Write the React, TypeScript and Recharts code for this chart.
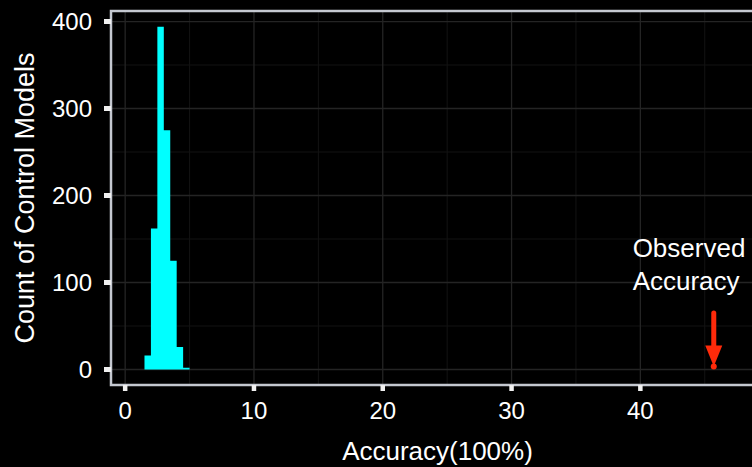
import React from "react";
import {
  ComposedChart,
  Area,
  XAxis,
  YAxis,
  CartesianGrid,
  ReferenceArea,
  ReferenceLine,
  ReferenceDot,
} from "recharts";

// Histogram of control-model accuracies (bin starts, width 0.5)
const binStarts = [1.5, 2, 2.5, 3, 3.5, 4, 4.5];
const binWidth = 0.5;
const counts = [16, 162, 394, 275, 125, 26, 2];

// Observed accuracy marker
const observedAccuracy = 45.7;
const arrowTop = 65;
const arrowShaftEnd = 26;
const labelX = 39.4;
const labelY = 129;
const labelLines = ["Observed", "Accuracy"];

// Axes
const xTicks = [0, 10, 20, 30, 40];
const xMinor = [5, 15, 25, 35, 45];
const yTicks = [0, 100, 200, 300, 400];
const yMinor = [50, 150, 250, 350];
const xDomain: [number, number] = [-1.1, 49.6];
const yDomain: [number, number] = [-17.8, 412.1];

const histData = [
  ...binStarts.map((x, i) => ({ x, count: counts[i] })),
  { x: binStarts[binStarts.length - 1] + binWidth, count: 0 },
];

const FONT = "'Liberation Sans', Arial, Helvetica, sans-serif";
const CYAN = "#00ffff";
const RED = "#ff2a0a";
const BORDER = "#c4c8d0";

const ArrowHead = (props: any) => {
  const { cx, cy } = props;
  if (cx == null || cy == null) return null;
  return (
    <g>
      <polygon
        points={`${cx - 8.5},${cy - 24} ${cx + 8.5},${cy - 24} ${cx},${cy - 3}`}
        fill={RED}
      />
      <circle cx={cx} cy={cy - 3} r={3} fill={RED} />
    </g>
  );
};

const TextLabel = (props: any) => {
  const { cx, cy } = props;
  if (cx == null || cy == null) return null;
  return (
    <g>
      {labelLines.map((t, i) => (
        <text
          key={t}
          x={cx}
          y={cy + i * 33}
          fill="#ffffff"
          fontSize={26}
          fontFamily={FONT}
          textAnchor="start"
        >
          {t}
        </text>
      ))}
    </g>
  );
};

export default function App() {
  return (
    <div
      style={{
        position: "absolute",
        left: 0,
        top: 0,
        width: 752,
        height: 467,
        background: "#000000",
        overflow: "hidden",
        fontFamily: FONT,
      }}
    >
      <ComposedChart
        width={752}
        height={467}
        data={histData}
        margin={{ top: 11, right: -12, bottom: 0, left: 0 }}
      >
        <CartesianGrid
          stroke="#131313"
          strokeWidth={1}
          verticalValues={xMinor}
          horizontalValues={yMinor}
        />
        <CartesianGrid
          stroke="#242424"
          strokeWidth={1.3}
          verticalValues={xTicks}
          horizontalValues={yTicks}
        />
        <XAxis
          dataKey="x"
          type="number"
          domain={xDomain}
          ticks={xTicks}
          allowDataOverflow
          height={82}
          tickSize={6}
          tickMargin={11}
          axisLine={false}
          tickLine={{ stroke: "#f0f0f0", strokeWidth: 4.5 }}
          tick={{ fill: "#ffffff", fontSize: 24, fontFamily: FONT }}
          label={{
            value: "Accuracy(100%)",
            position: "insideBottom",
            offset: 7,
            fill: "#ffffff",
            fontSize: 26,
            fontFamily: FONT,
          }}
        />
        <YAxis
          type="number"
          domain={yDomain}
          ticks={yTicks}
          allowDataOverflow
          width={111}
          tickSize={7}
          tickMargin={12}
          axisLine={false}
          tickLine={{ stroke: "#f0f0f0", strokeWidth: 5 }}
          tick={{ fill: "#ffffff", fontSize: 24, fontFamily: FONT }}
          label={{
            value: "Count of Control Models",
            angle: -90,
            position: "insideLeft",
            offset: 24,
            fill: "#ffffff",
            fontSize: 27,
            fontFamily: FONT,
            style: { textAnchor: "middle" },
          }}
        />
        <Area
          type="stepAfter"
          dataKey="count"
          fill={CYAN}
          fillOpacity={1}
          stroke="none"
          baseValue={0}
          dot={false}
          activeDot={false}
          isAnimationActive={false}
        />
        <ReferenceArea
          x1={xDomain[0]}
          x2={xDomain[1]}
          y1={yDomain[0]}
          y2={yDomain[1]}
          fill="none"
          fillOpacity={0}
          stroke={BORDER}
          strokeWidth={2.5}
          ifOverflow="visible"
        />
        <ReferenceLine
          segment={[
            { x: observedAccuracy, y: arrowTop },
            { x: observedAccuracy, y: arrowShaftEnd },
          ]}
          stroke={RED}
          strokeWidth={5}
          strokeLinecap="round"
          ifOverflow="visible"
        />
        <ReferenceDot
          x={observedAccuracy}
          y={0}
          r={0}
          shape={ArrowHead}
          ifOverflow="visible"
        />
        <ReferenceDot
          x={labelX}
          y={labelY}
          r={0}
          shape={TextLabel}
          ifOverflow="visible"
        />
      </ComposedChart>
    </div>
  );
}
